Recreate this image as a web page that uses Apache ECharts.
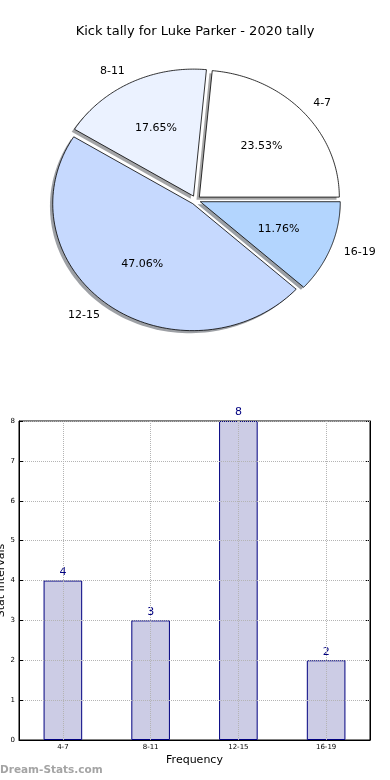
<!DOCTYPE html>
<html><head><meta charset="utf-8">
<script src="https://cdn.jsdelivr.net/npm/echarts@6/dist/echarts.min.js"></script>
<style>html,body{margin:0;padding:0;background:#fff}#c{width:390px;height:780px}</style>
</head><body><div id="c"></div>
<script>
const titleText = 'Kick tally for Luke Parker - 2020 tally';
const categories = ['4-7', '8-11', '12-15', '16-19'];
const counts = [4, 3, 8, 2];
const pieColors = ['#ffffff', '#ebf2ff', '#c6d9fe', '#b3d5fe'];
const yTicks = [0, 1, 2, 3, 4, 5, 6, 7, 8];
const yAxisName = 'Stat Intervals';
const xAxisName = 'Frequency';
const watermark = 'Dream-Stats.com';

const FONT = 'DejaVu Sans';
const EXPLODE = 0.035;
const SHADOW = 0.02;
const total = counts.reduce((a, b) => a + b, 0);
const startAngles = [], endAngles = [];
let acc = 0;
counts.forEach(v => { startAngles.push(acc / total * 2 * Math.PI); acc += v; endAngles.push(acc / total * 2 * Math.PI); });

function slicePoints(api, i, dx, dy) {
  const a0 = startAngles[i], a1 = endAngles[i], am = (a0 + a1) / 2;
  const ex = EXPLODE * Math.cos(am) + dx, ey = EXPLODE * Math.sin(am) + dy;
  const pts = [api.coord([ex, ey])];
  const n = 90;
  for (let k = 0; k <= n; k++) {
    const t = a0 + (a1 - a0) * k / n;
    pts.push(api.coord([ex + Math.cos(t), ey + Math.sin(t)]));
  }
  return pts;
}
function shadowColor(hex) {
  const r = parseInt(hex.slice(1, 3), 16), g = parseInt(hex.slice(3, 5), 16), b = parseInt(hex.slice(5, 7), 16);
  return 'rgba(' + Math.round(r * 0.3) + ',' + Math.round(g * 0.3) + ',' + Math.round(b * 0.3) + ',0.5)';
}
function renderShadow(params, api) {
  const i = params.dataIndex;
  return { type: 'polygon', shape: { points: slicePoints(api, i, -SHADOW, -SHADOW) },
           style: { fill: shadowColor(pieColors[i]), stroke: null } };
}
function renderSlice(params, api) {
  const i = params.dataIndex;
  const a0 = startAngles[i], a1 = endAngles[i], am = (a0 + a1) / 2;
  const ex = EXPLODE * Math.cos(am), ey = EXPLODE * Math.sin(am);
  const lp = api.coord([ex + 1.1 * Math.cos(am), ey + 1.1 * Math.sin(am)]);
  const pp = api.coord([ex + 0.6 * Math.cos(am), ey + 0.6 * Math.sin(am)]);
  const pct = (counts[i] / total * 100).toFixed(2) + '%';
  return {
    type: 'group',
    children: [
      { type: 'polygon', shape: { points: slicePoints(api, i, 0, 0) },
        style: { fill: pieColors[i], stroke: '#000', lineWidth: 0.8 } },
      { type: 'text', x: lp[0], y: lp[1],
        style: { text: categories[i], fill: '#000', font: '11px "' + FONT + '"',
                 align: Math.cos(am) > 0 ? 'left' : 'right', verticalAlign: 'middle' } },
      { type: 'text', x: pp[0], y: pp[1],
        style: { text: pct, fill: '#000', font: '11px "' + FONT + '"', align: 'center', verticalAlign: 'middle' } }
    ]
  };
}

const chart = echarts.init(document.getElementById('c'), null, { renderer: 'canvas' });
const dotted = { type: 'dotted', color: '#b4b4b4', width: 1 };
chart.setOption({
  animation: false,
  backgroundColor: '#fff',
  title: { text: titleText, left: 'center', top: 20,
           textStyle: { fontFamily: FONT, fontSize: 13, fontWeight: 'normal', color: '#000' } },
  graphic: [{ type: 'text', left: 0, top: 765,
              style: { text: watermark, fill: '#a4a4a4', font: 'bold 10.5px "' + FONT + '"' } }],
  grid: [
    { left: 13.7, top: 35, width: 364, height: 330.2, show: false, containLabel: false, outerBoundsMode: 'none' },
    { left: 19, top: 421, width: 351, height: 319, show: true, borderColor: '#000', borderWidth: 1,
      backgroundColor: 'transparent', containLabel: false, outerBoundsMode: 'none' }
  ],
  xAxis: [
    { gridIndex: 0, type: 'value', min: -1.3, max: 1.3, show: false },
    { gridIndex: 1, type: 'category', data: categories, position: 'bottom',
      name: xAxisName, nameLocation: 'middle', nameGap: 15, nameMoveOverlap: false,
      nameTextStyle: { fontFamily: FONT, fontSize: 11, color: '#000' },
      axisLine: { lineStyle: { color: '#000' } },
      axisTick: { alignWithLabel: true, inside: true, length: 4, lineStyle: { color: '#000' } },
      axisLabel: { fontFamily: FONT, fontSize: 7, color: '#000', margin: 4 },
      splitLine: { show: false }, z: 5 },
    { gridIndex: 1, type: 'category', data: categories, position: 'top',
      axisLine: { show: false }, axisLabel: { show: false },
      axisTick: { alignWithLabel: true, inside: true, length: 4, lineStyle: { color: '#000' } } }
  ],
  yAxis: [
    { gridIndex: 0, type: 'value', min: -1.3, max: 1.3, show: false },
    { gridIndex: 1, type: 'value', min: yTicks[0], max: yTicks[yTicks.length - 1], interval: 1,
      name: yAxisName, nameLocation: 'middle', nameGap: 12, nameMoveOverlap: false,
      nameTextStyle: { fontFamily: FONT, fontSize: 11, color: '#000' },
      axisLine: { show: true, lineStyle: { color: '#000' } },
      axisTick: { show: true, inside: true, length: 4, lineStyle: { color: '#000' } },
      axisLabel: { fontFamily: FONT, fontSize: 7, color: '#000', margin: 4 },
      splitLine: { show: true, lineStyle: dotted }, z: 5 },
    { gridIndex: 1, type: 'value', position: 'right', min: yTicks[0], max: yTicks[yTicks.length - 1], interval: 1,
      axisLine: { show: true, lineStyle: { color: '#000' } },
      axisTick: { show: true, inside: true, length: 4, lineStyle: { color: '#000' } },
      axisLabel: { show: false }, splitLine: { show: false } }
  ],
  series: [
    { type: 'custom', coordinateSystem: 'cartesian2d', xAxisIndex: 0, yAxisIndex: 0, z: 1,
      renderItem: renderShadow, data: counts.map((v, i) => [i, v]), silent: true },
    { type: 'custom', coordinateSystem: 'cartesian2d', xAxisIndex: 0, yAxisIndex: 0, z: 2,
      renderItem: renderSlice, data: counts.map((v, i) => [i, v]), silent: true },
    { type: 'bar', xAxisIndex: 1, yAxisIndex: 1, data: counts, barWidth: '44%',
      itemStyle: { color: '#cccce5', borderColor: '#000080', borderWidth: 1 },
      label: { show: true, position: 'top', distance: 3, color: '#000080', fontFamily: FONT, fontSize: 11 },
      markLine: { silent: true, symbol: ['none', 'none'], label: { show: false },
                  lineStyle: dotted, data: categories.map(c => ({ xAxis: c })) } }
  ]
});
</script></body></html>
